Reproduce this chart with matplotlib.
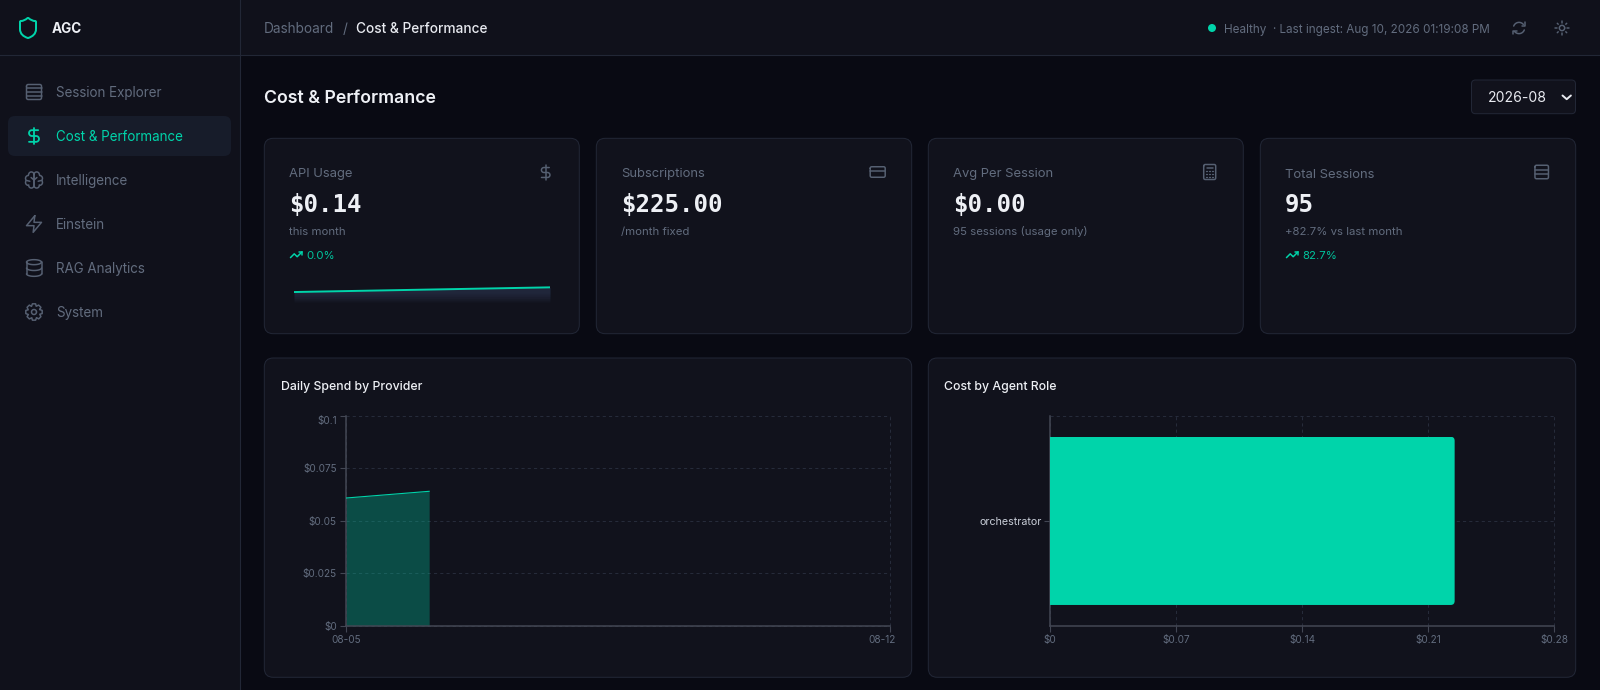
import numpy as np
import matplotlib
matplotlib.use('Agg')
import matplotlib.pyplot as plt
from matplotlib.patches import FancyBboxPatch, Circle, PathPatch
from matplotlib.path import Path
from matplotlib.transforms import IdentityTransform, ScaledTranslation

# chart values
nav_items = ['Session Explorer', 'Cost & Performance', 'Intelligence', 'Einstein', 'RAG Analytics', 'System']
kpi_titles = ['API Usage', 'Subscriptions', 'Avg Per Session', 'Total Sessions']
kpi_values = ['$0.14', '$225.00', '$0.00', '95']
kpi_subs = ['this month', '/month fixed', '95 sessions (usage only)', '+82.7% vs last month']
kpi_trends = ['0.0%', None, None, '82.7%']

spend_days = [0, 1.07]
spend_values = [0.0608, 0.064]
spend_yticks = [0, 0.025, 0.05, 0.075, 0.1]
spend_ylabels = ['$0', '$0.025', '$0.05', '$0.075', '$0.1']
spend_xticks = [0, 7]
spend_xlabels = ['08-05', '08-12']

roles = ['orchestrator']
role_costs = [0.2248]
role_xticks = [0, 0.07, 0.14, 0.21, 0.28]
role_xlabels = ['$0', '$0.07', '$0.14', '$0.21', '$0.28']

# colours
PAGE = '#090a13'
PANEL = '#10111b'
CARD = '#11121c'
BORDER = '#222736'
ACTIVE = '#171c2a'
TEAL = '#00d4aa'
GREY = '#626c7e'
ICON = '#566072'
WHITE = '#eef0f5'
AXIS = '#434754'
GRID = '#262b3a'

W, H = 1600, 690
plt.rcParams['font.family'] = ['Inter', 'DejaVu Sans']

fig = plt.figure(figsize=(W / 100, H / 100), dpi=100, facecolor=PAGE)
ui = fig.add_axes([0, 0, 1, 1])
ui.set_xlim(0, W)
ui.set_ylim(H, 0)
ui.axis('off')


def px_axes(x0, y0, x1, y1):
    a = fig.add_axes([x0 / W, 1 - y1 / H, (x1 - x0) / W, (y1 - y0) / H])
    a.set_facecolor('none')
    return a


def rect(x0, y0, x1, y1, face, edge='none', r=0, lw=1.0):
    style = 'round,pad=0,rounding_size=%s' % r if r else 'square,pad=0'
    ui.add_patch(FancyBboxPatch((x0, y0), x1 - x0, y1 - y0, boxstyle=style, fc=face, ec=edge, lw=lw * 0.72))


def label(x, y, s, px=14, color=GREY, weight='normal', ha='left', family=None):
    kw = {'family': family} if family else {}
    ui.text(x, y, s, fontsize=px * 0.72, color=color, fontweight=weight, ha=ha, va='center_baseline', **kw)


def arc(cx, cy, r, a0, a1, n=24):
    t = np.radians(np.linspace(a0, a1, n))
    return list(zip(cx + r * np.cos(t), cy + r * np.sin(t)))


def stroke(pts, cx, cy, size, color=ICON, lw=1.5, closed=False):
    # pts on the 24 unit icon grid, centred on cx, cy
    p = (np.array(pts, dtype=float) - 12) * size / 24 + [cx, cy]
    ui.plot(p[:, 0] if not closed else np.r_[p[:, 0], p[0, 0]],
            p[:, 1] if not closed else np.r_[p[:, 1], p[0, 1]],
            color=color, lw=lw * 0.72, solid_capstyle='round', solid_joinstyle='round')


def rrect_pts(x, y, w, h, r):
    return (arc(x + r, y + r, r, 180, 270, 6) + arc(x + w - r, y + r, r, 270, 360, 6)
            + arc(x + w - r, y + h - r, r, 0, 90, 6) + arc(x + r, y + h - r, r, 90, 180, 6))


def icon_rows(cx, cy, size, lines, color=ICON):
    stroke(rrect_pts(3, 3, 18, 18, 2), cx, cy, size, color, closed=True)
    for yy in lines:
        stroke([(3, yy), (21, yy)], cx, cy, size, color)


def icon_dollar(cx, cy, size, color=ICON, lw=1.5):
    stroke([(12, 2), (12, 22)], cx, cy, size, color, lw)
    s = [(17, 5)] + arc(9.5, 8.5, 3.5, -90, -270) + arc(14.5, 15.5, 3.5, -90, 90) + [(6, 19)]
    stroke(s, cx, cy, size, color, lw)


def icon_shield(cx, cy, size, color=TEAL):
    verts = [(20, 13), (20, 18), (16.5, 20.5), (12.34, 21.95), (12, 22.05), (11.9, 22), (11.67, 21.94),
             (7.5, 20.5), (4, 18), (4, 13), (4, 13), (4, 6), (4, 6), (4, 5.4), (4.4, 5), (5, 5), (7, 5),
             (9.5, 3.8), (11.24, 2.28), (11.7, 1.9), (12.3, 1.9), (12.76, 2.28), (14.51, 3.81), (17, 5),
             (19, 5), (19.6, 5), (20, 5.4), (20, 6), (20, 6), (20, 13), (20, 13)]
    codes = [Path.MOVETO] + [Path.CURVE4] * (len(verts) - 1)
    v = (np.array(verts) - 12) * size / 24 + [cx, cy]
    ui.add_patch(PathPatch(Path(v, codes), fc='none', ec=color, lw=2 * 0.72))


def icon_brain(cx, cy, size):
    # two lobes with bumpy outer edges
    stroke([(12, 4.5)] + arc(8.8, 5.5, 3.2, -20, -170, 8) + arc(5.2, 10, 3.4, -90, -210, 8)
           + arc(5.2, 15, 3.4, -150, -260, 8) + arc(8.8, 18.5, 3.2, -170, -340, 8) + [(12, 4.5)], cx, cy, size)
    stroke([(12, 4.5)] + arc(15.2, 5.5, 3.2, -160, -10, 8) + arc(18.8, 10, 3.4, -90, 30, 8)
           + arc(18.8, 15, 3.4, -30, 80, 8) + arc(15.2, 18.5, 3.2, -10, 160, 8) + [(12, 4.5)], cx, cy, size)
    stroke([(12, 12), (8.5, 9)], cx, cy, size)
    stroke([(12, 12), (15.5, 9)], cx, cy, size)
    stroke([(3, 12.5), (7, 13.5)], cx, cy, size)
    stroke([(21, 12.5), (17, 13.5)], cx, cy, size)


def icon_zap(cx, cy, size):
    stroke([(13, 2), (3, 14), (12, 14), (11, 22), (21, 10), (12, 10)], cx, cy, size, closed=True)


def icon_database(cx, cy, size):
    t = np.radians(np.linspace(0, 360, 40))
    stroke(list(zip(12 + 9 * np.cos(t), 5 + 3 * np.sin(t))), cx, cy, size)
    t = np.radians(np.linspace(0, 180, 20))
    for yy in (12, 19):
        stroke(list(zip(12 + 9 * np.cos(t), yy + 3 * np.sin(t))), cx, cy, size)
    stroke([(3, 5), (3, 19)], cx, cy, size)
    stroke([(21, 5), (21, 19)], cx, cy, size)


def icon_gear(cx, cy, size):
    pts = []
    for k in range(8):
        m = k * 45
        pts += [(12 + 7.4 * np.cos(np.radians(m - 24)), 12 + 7.4 * np.sin(np.radians(m - 24))),
                (12 + 10 * np.cos(np.radians(m - 11)), 12 + 10 * np.sin(np.radians(m - 11))),
                (12 + 10 * np.cos(np.radians(m + 11)), 12 + 10 * np.sin(np.radians(m + 11)))]
    stroke(pts, cx, cy, size, closed=True)
    stroke(arc(12, 12, 3, 0, 360), cx, cy, size)


def icon_trend(cx, cy, size, color=TEAL):
    stroke([(22, 7), (13.5, 15.5), (8.5, 10.5), (2, 17)], cx, cy, size, color)
    stroke([(16, 7), (22, 7), (22, 13)], cx, cy, size, color)


def icon_card(cx, cy, size):
    stroke(rrect_pts(2, 5, 20, 14, 2), cx, cy, size, closed=True)
    stroke([(2, 10), (22, 10)], cx, cy, size)


def icon_calc(cx, cy, size):
    stroke(rrect_pts(4, 2, 16, 20, 2), cx, cy, size, closed=True)
    stroke([(8, 6), (16, 6)], cx, cy, size)
    for yy in (10, 14, 18):
        for xx in (8, 12, 16):
            stroke([(xx - 0.6, yy), (xx + 0.6, yy)], cx, cy, size, lw=1.3)


def icon_refresh(cx, cy, size):
    stroke(arc(12, 12, 9, -160, -40), cx, cy, size)
    stroke([(21, 3), (21, 8), (16, 8)], cx, cy, size)
    stroke(arc(12, 12, 9, 20, 140), cx, cy, size)
    stroke([(3, 21), (3, 16), (8, 16)], cx, cy, size)


def icon_sun(cx, cy, size):
    stroke(arc(12, 12, 4, 0, 360), cx, cy, size)
    for k in range(8):
        c, s = np.cos(k * np.pi / 4), np.sin(k * np.pi / 4)
        stroke([(12 + 8 * c, 12 + 8 * s), (12 + 10 * c, 12 + 10 * s)], cx, cy, size)


# shell
rect(0, 0, 240, H, PANEL)
rect(240, 0, W, 55, PANEL)
ui.plot([0, W], [55, 55], color=BORDER, lw=0.8)
ui.plot([240, 240], [0, H], color=BORDER, lw=0.8)

icon_shield(28, 28, 24)
label(51.8, 27.4, 'AGC', 13.5, WHITE, 'bold')

nav_y = [92, 136, 180, 224, 268, 312]
rect(8, 116, 231, 156, ACTIVE, r=7)
for name, yy in zip(nav_items, nav_y):
    label(56, yy - 0.5, name, 13.4, TEAL if name.startswith('Cost') else GREY)
icon_rows(34, nav_y[0], 20, [7.5, 12, 16.5])
icon_dollar(34, nav_y[1], 20, TEAL, 1.8)
icon_brain(34, nav_y[2], 20)
icon_zap(34, nav_y[3], 20)
icon_database(34, nav_y[4], 20)
icon_gear(34, nav_y[5], 20)

# top bar
label(264, 27.4, 'Dashboard', 13.6, GREY)
label(342.5, 27.4, '/', 13.6, GREY)
label(356.5, 27.4, 'Cost & Performance', 13.7, '#e8eaf0', 'medium')
ui.add_patch(Circle((1212, 28), 4, fc=TEAL, ec='none'))
label(1224.3, 28, 'Healthy', 11.7, GREY)
label(1273, 28, '· Last ingest: Aug 10, 2026 01:19:08 PM', 11.7, GREY)
icon_refresh(1519, 28, 15)
icon_sun(1562, 28, 16)

# page heading
label(264, 96.3, 'Cost & Performance', 17.7, WHITE, 'semibold')
rect(1471.5, 80, 1575.5, 113.7, CARD, BORDER, r=4)
label(1488, 97, '2026-08', 14, '#e8eaf0')
ui.plot([1562.5, 1566.7, 1570.9], [95.5, 99.2, 95.5], color='#e8eaf0', lw=1.4, solid_capstyle='round')

# kpi cards
card_x = [(264.3, 579.3), (596.3, 911.7), (928.3, 1243.3), (1260.3, 1575.7)]
for i, (x0, x1) in enumerate(card_x):
    rect(x0, 138.3, x1, 333.7, CARD, BORDER, r=9)
    tx = x0 + 24.4
    label(tx, 173, kpi_titles[i], 13, GREY)
    label(tx, 202.3, kpi_values[i], 24, WHITE, 'bold', family='DejaVu Sans Mono')
    label(tx, 230.7, kpi_subs[i], 11.4, GREY)
    if kpi_trends[i]:
        icon_trend(x0 + 32, 254.7, 14)
        label(x0 + 42.2, 254.7, kpi_trends[i], 11.4, '#00c49c')
icon_dollar(545.7, 172.5, 17, ICON)
icon_card(877.7, 172, 18)
icon_calc(1209.7, 172, 18)
icon_rows(1541.7, 172, 18, [9, 15])

# sparkline, stacked translucent bands stand in for the gradient under the line
spark = px_axes(294, 285, 550, 302)
spark.axis('off')
for base in (0.0540, 0.0552, 0.0564, 0.0576, 0.0588, 0.0600):
    spark.fill_between(spend_days, spend_values, base, color='#3a4668', alpha=0.09, lw=0, zorder=1)
spark.plot(spend_days, spend_values, color=TEAL, lw=1.4, zorder=2)
spark.set_xlim(spend_days[0], spend_days[-1])
spark.set_ylim(0.0540, 0.0656)

# chart cards
rect(264.3, 358, 911.7, 677.3, CARD, BORDER, r=9)
rect(928.3, 358, 1575.7, 677.3, CARD, BORDER, r=9)
label(281, 385.6, 'Daily Spend by Provider', 12.3, WHITE, 'medium')
label(944.5, 385.6, 'Cost by Agent Role', 12.3, WHITE, 'medium')


def style_axis(a):
    for side in ('top', 'right'):
        a.spines[side].set_visible(False)
    for side in ('left', 'bottom'):
        a.spines[side].set_color(AXIS)
        a.spines[side].set_linewidth(1.1)
    a.tick_params(length=4.3, width=0.8, color=AXIS, pad=2.4, labelsize=7.2, labelcolor=GREY)
    a.grid(True, which='both', color=GRID, lw=0.75, dashes=(3, 3))
    a.set_axisbelow(True)


def unclip_grid(a):
    for tick in a.xaxis.get_major_ticks() + a.yaxis.get_major_ticks() + a.yaxis.get_minor_ticks():
        tick.gridline.set_clip_on(False)


# daily spend
ax1 = px_axes(346, 415.7, 890, 625.7)
style_axis(ax1)
ax1.fill_between(spend_days, spend_values, color=TEAL, alpha=0.3, lw=0, zorder=2)
ax1.plot(spend_days, spend_values, color=TEAL, lw=0.8, zorder=3)
ax1.set_xlim(spend_xticks[0], spend_xticks[-1])
ax1.set_ylim(spend_yticks[0], spend_yticks[-1])
ax1.set_xticks(spend_xticks, spend_xlabels)
ax1.set_yticks(spend_yticks, spend_ylabels)
ax1.get_yticklabels()[-1].set_verticalalignment('top')
last = ax1.get_xticklabels()[-1]
last.set_transform(last.get_transform() + ScaledTranslation(-8 / 100, 0, fig.dpi_scale_trans))
unclip_grid(ax1)

# cost by role
ax2 = px_axes(1050, 415.7, 1554, 626)
style_axis(ax2)
bars = ax2.barh(roles, role_costs, height=0.8, color=TEAL, zorder=3)
ax2.set_xlim(role_xticks[0], role_xticks[-1])
ax2.set_ylim(-0.5, 0.5)
ax2.set_xticks(role_xticks, role_xlabels)
ax2.set_yticks([0.5], minor=True)
ax2.tick_params(axis='y', which='minor', length=0)
ax2.tick_params(axis='y', which='major', labelsize=7.7, labelcolor='#c9ced8', pad=1.4)
unclip_grid(ax2)

# round the outer corners of the bar
fig.canvas.draw()
bb = bars[0].get_window_extent()
r = 4
px0, px1, py0, py1 = bb.x0, bb.x1, bb.y0, bb.y1
corner = [(px0, py0), (px1 - r, py0), (px1, py0), (px1, py0 + r), (px1, py1 - r), (px1, py1),
          (px1 - r, py1), (px0, py1), (px0, py0)]
corner_codes = [Path.MOVETO, Path.LINETO, Path.CURVE3, Path.CURVE3, Path.LINETO, Path.CURVE3,
                Path.CURVE3, Path.LINETO, Path.CLOSEPOLY]
bars[0].set_clip_path(Path(corner, corner_codes), IdentityTransform())

fig.savefig('out.png', dpi=100, facecolor=PAGE)
